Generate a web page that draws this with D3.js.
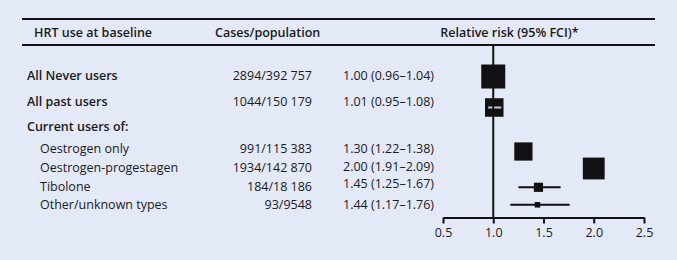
<!DOCTYPE html>
<html><head><meta charset="utf-8">
<script src="https://cdn.jsdelivr.net/npm/d3@7"></script>
<style>
html,body{margin:0;padding:0;background:#e4e9f7;}
svg{display:block;}
text{font-family:"Open Sans",Lato,sans-serif;fill:#1a1a1a;}
</style></head>
<body>
<script>
// ---- data ----
const labels = ["All Never users","All past users","Current users of:","Oestrogen only","Oestrogen-progestagen","Tibolone","Other/unknown types"];
const groupRow = [true,true,true,false,false,false,false];
const casesPop = ["2894/392 757","1044/150 179","","991/115 383","1934/142 870","184/18 186","93/9548"];
const cases = [2894,1044,null,991,1934,184,93];
const rr = [1.00,1.01,null,1.30,2.00,1.45,1.44];
const ciLow = [0.96,0.95,null,1.22,1.91,1.25,1.17];
const ciHigh = [1.04,1.08,null,1.38,2.09,1.67,1.76];
const xTicks = [0.5,1.0,1.5,2.0,2.5];
const headers = ["HRT use at baseline","Cases/population","Relative risk (95% FCI)*"];

const W=677,H=260, FS=12.5, FF="'Open Sans',Lato,sans-serif";
const svg=d3.select("body").append("svg").attr("width",W).attr("height",H);
svg.append("rect").attr("width",W).attr("height",H).attr("fill","#e4e9f7");

const x=d3.scaleLinear().domain([0.5,2.5]).range([443,644]);
const textY=d3.scaleOrdinal().domain(labels).range([76,101.5,127,149,168,187,205]);
const rrY=d3.scaleOrdinal().domain(labels).range([76,101.5,127,149,167,184,205]);
const markY=d3.scaleOrdinal().domain(labels).range([76.5,107.5,127,151.5,168.5,187.3,204.8]);
const boxSize=d3.scaleLog().domain([93,2894]).range([5.5,24]);

// header rules
svg.append("line").attr("x1",22).attr("x2",655).attr("y1",19).attr("y2",19).attr("stroke","#111").attr("stroke-width",2);
svg.append("line").attr("x1",22).attr("x2",655).attr("y1",45).attr("y2",45).attr("stroke","#111").attr("stroke-width",2);

// headers
const hx=[34,215,509.5], ha=["start","start","middle"];
svg.selectAll("text.hdr").data(headers).join("text").attr("class","hdr")
  .attr("x",(d,i)=>hx[i]).attr("y",33).attr("dy","0.35em").attr("text-anchor",(d,i)=>ha[i])
  .attr("font-size",FS).attr("font-weight",600).text(d=>d);

// row labels
const rows=labels.map((l,i)=>({l,i,g:groupRow[i],c:casesPop[i],n:cases[i],rr:rr[i],lo:ciLow[i],hi:ciHigh[i]}));
svg.selectAll("text.lab").data(rows).join("text").attr("class","lab")
  .attr("x",d=>d.g?27:40).attr("y",d=>textY(d.l)).attr("dy","0.35em")
  .attr("font-size",FS).attr("font-weight",d=>d.g?600:400).text(d=>d.l);
svg.selectAll("text.cas").data(rows.filter(d=>d.c)).join("text").attr("class","cas")
  .attr("x",312).attr("y",d=>textY(d.l)).attr("dy","0.35em").attr("text-anchor","end")
  .attr("font-size",FS).text(d=>d.c);
const f=d3.format(".2f");
const est=rows.filter(d=>d.rr!=null);
svg.selectAll("text.rr").data(est).join("text").attr("class","rr")
  .attr("x",343).attr("y",d=>rrY(d.l)).attr("dy","0.35em")
  .attr("font-size",FS).text(d=>`${f(d.rr)} (${f(d.lo)}–${f(d.hi)})`);

// axis
const ax=svg.append("g").attr("transform","translate(0,217.5)")
  .call(d3.axisBottom(x).tickValues(xTicks).tickFormat(d3.format(".1f")).tickSize(6).tickSizeOuter(0));
ax.select(".domain").attr("stroke","#111").attr("stroke-width",2);
ax.selectAll(".tick line").attr("stroke","#111").attr("stroke-width",2);
ax.selectAll(".tick text").attr("font-size",FS).attr("dy","0.85em").style("font-family",FF).attr("fill","#1a1a1a");

// CI lines
svg.selectAll("line.ci").data(est).join("line").attr("class","ci")
  .attr("x1",d=>x(d.lo)).attr("x2",d=>x(d.hi)).attr("y1",d=>markY(d.l)).attr("y2",d=>markY(d.l))
  .attr("stroke","#111").attr("stroke-width",2);
// boxes
svg.selectAll("rect.box").data(est).join("rect").attr("class","box")
  .attr("x",d=>x(d.rr)-boxSize(d.n)/2).attr("y",d=>markY(d.l)-boxSize(d.n)/2)
  .attr("width",d=>boxSize(d.n)).attr("height",d=>boxSize(d.n)).attr("fill","#111");
// white CI inside box for past users
svg.selectAll("line.ciw").data(est.filter(d=>d.i===1)).join("line").attr("class","ciw")
  .attr("x1",d=>x(d.lo)).attr("x2",d=>x(d.hi)).attr("y1",d=>markY(d.l)).attr("y2",d=>markY(d.l))
  .attr("stroke","#c8ccd6").attr("stroke-width",2);
// reference line
svg.append("line").attr("x1",x(1)).attr("x2",x(1)).attr("y1",45).attr("y2",217.5).attr("stroke","#111").attr("stroke-width",2);
</script>
</body></html>
